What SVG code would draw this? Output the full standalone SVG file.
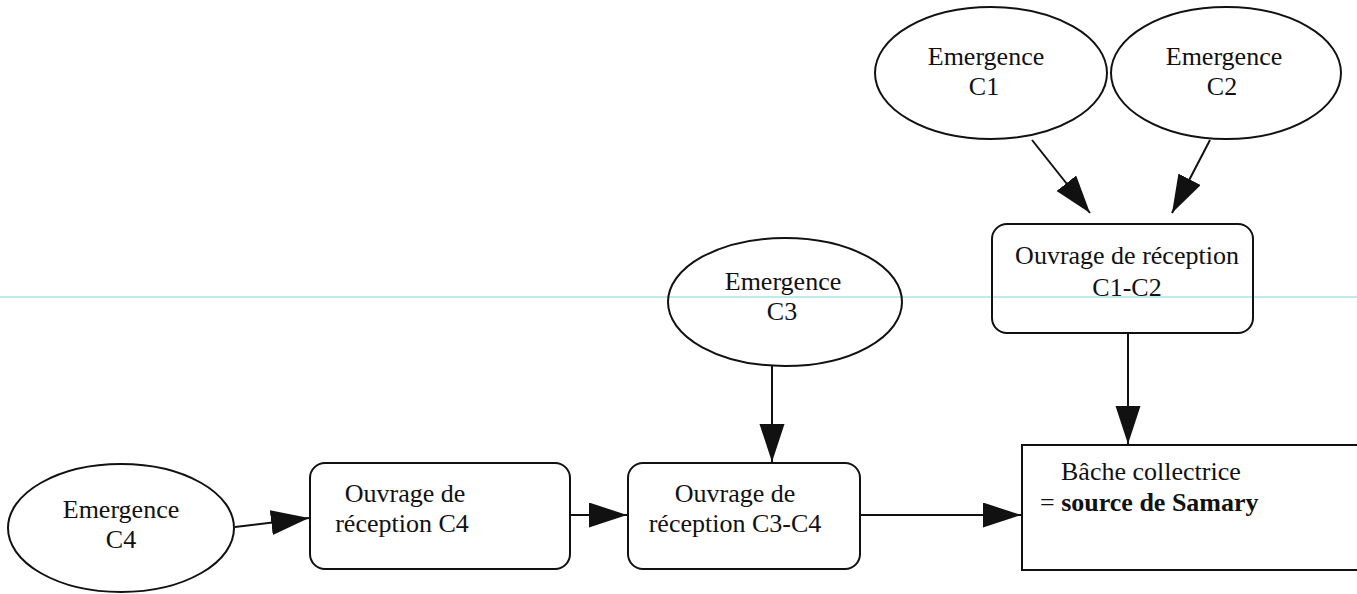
<svg xmlns="http://www.w3.org/2000/svg" width="1357" height="594" viewBox="0 0 1357 594">
<style>
.shape{fill:none;stroke:#111;stroke-width:2}
.edge{fill:none;stroke:#111;stroke-width:2;marker-end:url(#ah)}
text{font-family:"Liberation Serif","Times New Roman",serif;font-size:26px;fill:#111}
.c{text-anchor:middle}
.b{font-weight:bold}
</style>
<defs>
<marker id="ah" markerUnits="userSpaceOnUse" markerWidth="38" markerHeight="26" refX="38" refY="12.5" orient="auto">
<path d="M0,0 L38,12.5 L0,25 Z" fill="#111"/>
</marker>
</defs>
<rect width="1357" height="594" fill="#fff"/>
<line x1="0" y1="297" x2="1357" y2="297" stroke="#a6e3e9" stroke-width="1.5"/>
<g id="connectors">
<line class="edge" x1="1032" y1="140" x2="1090" y2="213"/>
<line class="edge" x1="1210" y1="140" x2="1172" y2="213"/>
<line class="edge" x1="1128" y1="333" x2="1128" y2="444"/>
<line class="edge" x1="772" y1="366" x2="772" y2="462"/>
<line class="edge" x1="235" y1="527" x2="309" y2="518"/>
<line class="edge" x1="570" y1="515" x2="627" y2="515"/>
<line class="edge" x1="860" y1="515" x2="1021" y2="515"/>
</g>
<g id="emergence-c1">
<ellipse class="shape" cx="991" cy="73" rx="116" ry="66"/>
<text class="c" x="986" y="65">Emergence</text>
<text class="c" x="984" y="95">C1</text>
</g>
<g id="emergence-c2">
<ellipse class="shape" cx="1226" cy="73" rx="115" ry="66"/>
<text class="c" x="1224" y="65">Emergence</text>
<text class="c" x="1222" y="95">C2</text>
</g>
<g id="ouvrage-c1-c2">
<rect class="shape" x="992" y="224" width="261" height="109" rx="15"/>
<text class="c" x="1127" y="264">Ouvrage de réception</text>
<text class="c" x="1127" y="296">C1-C2</text>
</g>
<g id="emergence-c3">
<ellipse class="shape" cx="785" cy="302" rx="117" ry="64"/>
<text class="c" x="783" y="290">Emergence</text>
<text class="c" x="782" y="320">C3</text>
</g>
<g id="emergence-c4">
<ellipse class="shape" cx="121" cy="528" rx="113" ry="64"/>
<text class="c" x="121" y="518">Emergence</text>
<text class="c" x="121" y="548">C4</text>
</g>
<g id="ouvrage-c4">
<rect class="shape" x="310" y="463" width="260" height="106" rx="15"/>
<text class="c" x="405" y="502">Ouvrage de</text>
<text class="c" x="402" y="532">réception C4</text>
</g>
<g id="ouvrage-c3-c4">
<rect class="shape" x="628" y="463" width="232" height="106" rx="15"/>
<text class="c" x="735" y="502">Ouvrage de</text>
<text class="c" x="735" y="532">réception C3-C4</text>
</g>
<g id="bache">
<rect class="shape" x="1022" y="445" width="345" height="125"/>
<text x="1061" y="480">Bâche collectrice</text>
<text x="1040" y="511">= <tspan class="b">source de Samary</tspan></text>
</g>
</svg>
